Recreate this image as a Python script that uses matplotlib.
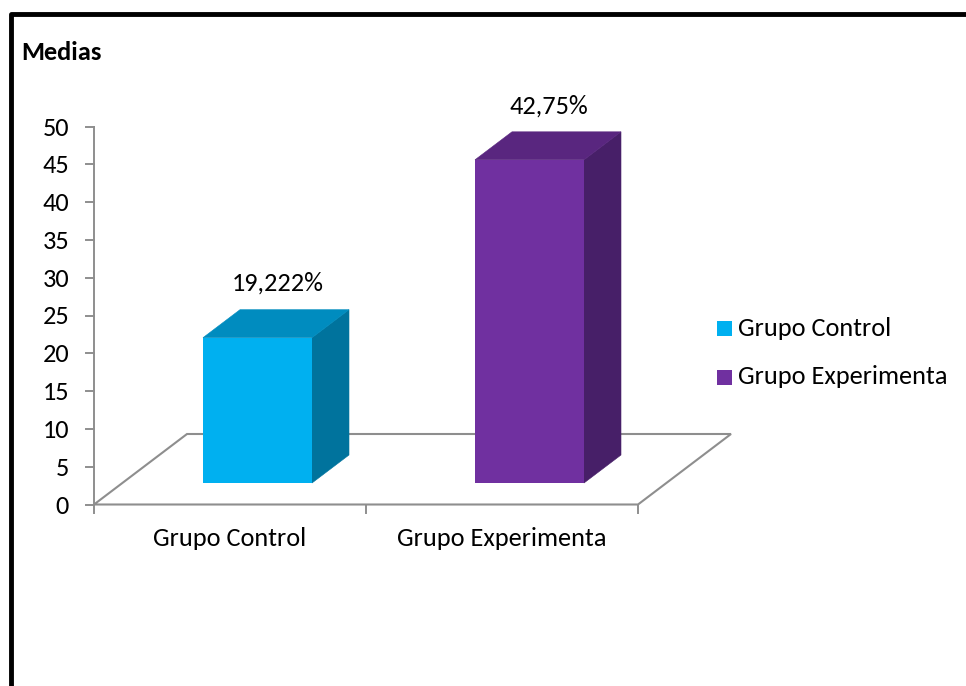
import matplotlib.pyplot as plt
from matplotlib.patches import Polygon, Rectangle

categories = ["Grupo Control", "Grupo Experimenta"]
values = [19.222, 42.75]
labels = ["19,222%", "42,75%"]
ticks = [0, 5, 10, 15, 20, 25, 30, 35, 40, 45, 50]
front = ["#00B0F0", "#7030A0"]
top = ["#008CBF", "#59267F"]
side = ["#00739D", "#471F68"]

W, H = 966, 686
plt.rcParams['font.family'] = ['Carlito', 'Open Sans', 'DejaVu Sans']

fig = plt.figure(figsize=(W / 100, H / 100), dpi=100)
fig.patch.set_facecolor("white")
# pixel axes, y flipped like the picture
ax = fig.add_axes([0, 0, 1, 1])
ax.set_xlim(0, W)
ax.set_ylim(H, 0)
ax.axis("off")

y0 = 504.5
per_unit = (y0 - 126.5) / 50
dx, dy = 37, 28
grey = "#8E8E8E"
fs = 19


def ypix(v):
    return y0 - v * per_unit


# outer frame
ax.plot([10.5, 10.5, 966], [686, 14, 14], color="black", lw=3.5, solid_capstyle="butt")

ax.text(21.5, 52, "Medias", fontsize=fs, fontweight="bold", va="center", ha="left")

# axis
ax.plot([94, 94], [ypix(50), y0], color=grey, lw=1.4)
for t in ticks:
    ax.plot([86, 94], [ypix(t), ypix(t)], color=grey, lw=1.4)
    ax.text(69, ypix(t) + 1.5, str(t), fontsize=fs, ha="right", va="center")

# floor
ax.add_patch(Polygon([(94, y0), (638, y0), (731, 434), (187, 434)], closed=True,
                     fill=False, edgecolor=grey, lw=1.5))
for x in [94, 366, 638]:
    ax.plot([x, x], [y0, y0 + 8], color=grey, lw=1.4)

# bars
lefts = [203, 475]
bw = 109
base = 483
label_x = [278, 549]
label_y = [283, 106]
cat_x = [230, 502]
for i, v in enumerate(values):
    x = lefts[i]
    yt = ypix(v) + (base - y0)
    ax.add_patch(Polygon([(x + bw, yt), (x + bw + dx, yt - dy), (x + bw + dx, base - dy), (x + bw, base)],
                         closed=True, facecolor=side[i], edgecolor=side[i], lw=0.4))
    ax.add_patch(Polygon([(x, yt), (x + dx, yt - dy), (x + bw + dx, yt - dy), (x + bw, yt)],
                         closed=True, facecolor=top[i], edgecolor=top[i], lw=0.4))
    ax.add_patch(Rectangle((x, yt), bw, base - yt, facecolor=front[i], edgecolor="none"))
    ax.text(label_x[i], label_y[i], labels[i], fontsize=fs, ha="center", va="center")
    ax.text(cat_x[i], 538, categories[i], fontsize=fs, ha="center", va="center")

# legend
for i, (c, yy) in enumerate(zip(categories, [328, 377])):
    ax.add_patch(Rectangle((717, yy - 7), 15, 15, facecolor=front[i], edgecolor="none"))
    ax.text(738.5, yy, c, fontsize=fs, ha="left", va="center")

fig.savefig("out.png", dpi=100)
